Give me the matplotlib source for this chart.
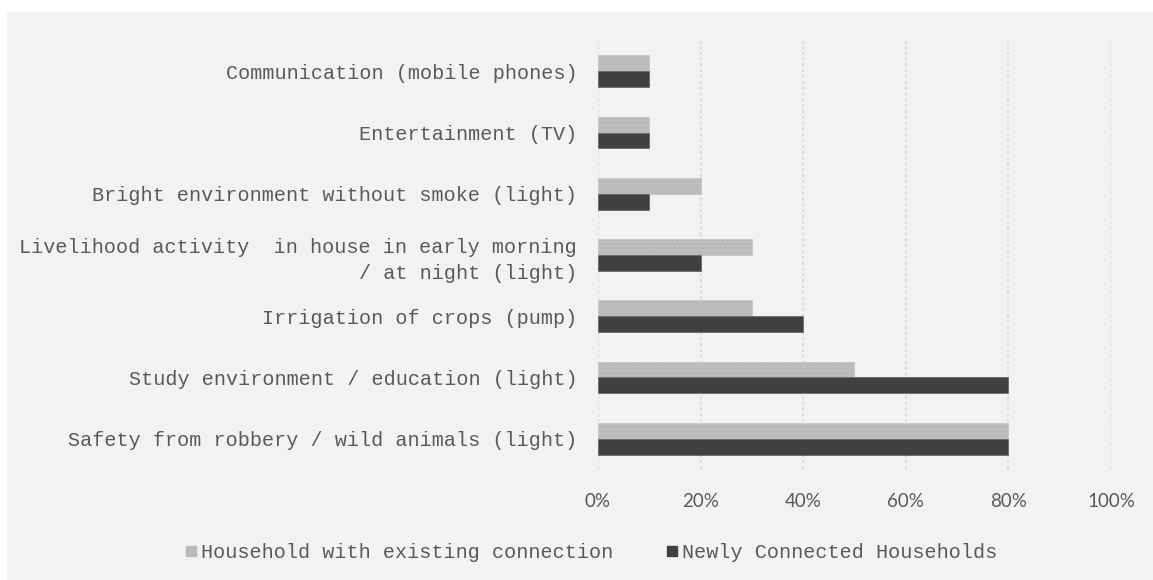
import matplotlib.pyplot as plt
import numpy as np
from matplotlib.lines import Line2D
from matplotlib.patches import Rectangle

# data (top to bottom as in the chart)
categories = [
    'Communication (mobile phones)',
    'Entertainment (TV)',
    'Bright environment without smoke (light)',
    'Livelihood activity  in house in early morning\n/ at night (light)',
    'Irrigation of crops (pump)',
    'Study environment / education (light)',
    'Safety from robbery / wild animals (light)',
]
existing = [0.10, 0.10, 0.20, 0.30, 0.30, 0.50, 0.80]
newly = [0.10, 0.10, 0.10, 0.20, 0.40, 0.80, 0.80]
series_names = ['Household with existing connection', 'Newly Connected Households']
xticks = [0, 0.2, 0.4, 0.6, 0.8, 1.0]
xtick_labels = ['0%', '20%', '40%', '60%', '80%', '100%']

bg = '#f2f2f2'
light = '#bababa'
dark = '#404040'
text_col = '#595959'
mono = 'Liberation Mono'

fig = plt.figure(figsize=(11.53, 5.80), dpi=100)
fig.patch.set_facecolor('white')
fig.patches.append(Rectangle((7 / 1153, 0), 1, 1 - 12 / 580, transform=fig.transFigure,
                             facecolor=bg, edgecolor='none', zorder=-10))

ax = fig.add_axes([598 / 1153, 1 - 469.3 / 580, 513 / 1153, 428.6 / 580])
ax.set_facecolor(bg)

y = np.arange(len(categories))
h = 0.26
ax.barh(y - h / 2, existing, height=h, color=light, edgecolor='#c3c3c3', hatch='....',
        linewidth=0.5, zorder=3)
ax.barh(y + h / 2, newly, height=h, color=dark, edgecolor='#6a6a6a', linewidth=0.6, zorder=3)

ax.set_xlim(0, 1)
ax.set_ylim(len(categories) - 0.5, -0.5)
ax.set_xticks(xticks)
ax.set_xticklabels(xtick_labels, fontfamily='Lato', fontsize=13.5, color=text_col)
ax.set_yticks(y)
ax.set_yticklabels(categories, fontfamily=mono, fontsize=14.5, color=text_col,
                   linespacing=1.45)
ax.tick_params(axis='both', length=0)
ax.tick_params(axis='y', pad=15)
ax.tick_params(axis='x', pad=17)

ax.grid(axis='x', color='#d9d9d9', linestyle=(0, (2, 1.5)), linewidth=1.2, zorder=0)
ax.set_axisbelow(True)
for s in ax.spines.values():
    s.set_visible(False)

handles = [
    Line2D([], [], marker='s', linestyle='none', markersize=7.5, color=light),
    Line2D([], [], marker='s', linestyle='none', markersize=7.5, color=dark),
]
leg = fig.legend(handles, series_names, loc='center', bbox_to_anchor=(591 / 1153, 1 - 553 / 580),
                 ncol=2, frameon=False, handlelength=0.6, handletextpad=0.2,
                 columnspacing=2.6, prop={'family': mono, 'size': 14.5})
for t in leg.get_texts():
    t.set_color(text_col)

fig.savefig('out.png', dpi=100, facecolor=fig.get_facecolor())
